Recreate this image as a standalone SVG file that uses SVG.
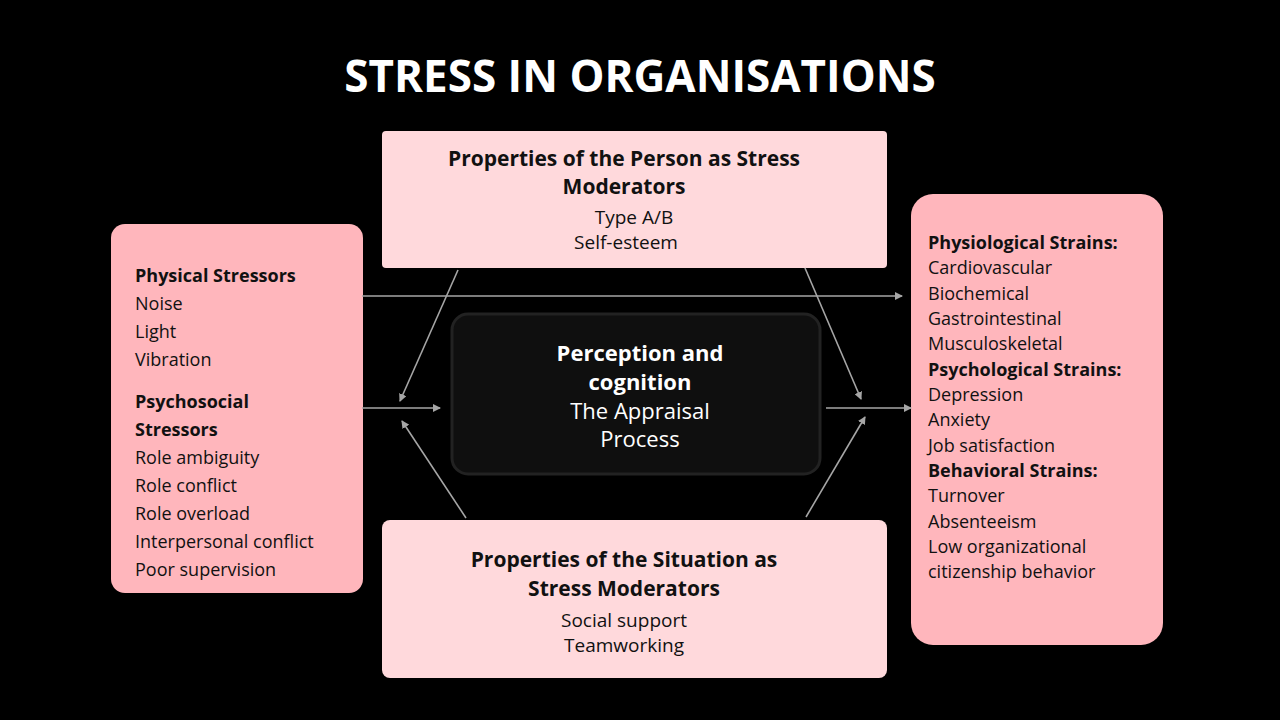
<svg xmlns="http://www.w3.org/2000/svg" width="1280" height="720" viewBox="0 0 1280 720">
<style>
text{font-family:"Open Sans","DejaVu Sans",sans-serif;}
.t{fill:#fff;font-weight:700;font-size:44px;}
.b{font-weight:700;fill:#111;}
.r{fill:#111;}
.c{fill:#ffd9dc;}
.s{fill:#ffb6bc;}
.a{stroke:#a6a6a6;stroke-width:1.6;fill:none;marker-end:url(#ah);}
</style>
<defs><marker id="ah" markerWidth="8" markerHeight="8" refX="7" refY="4" orient="auto" markerUnits="userSpaceOnUse"><path d="M0,0 L8,4 L0,8 z" fill="#a6a6a6"/></marker></defs>
<rect width="1280" height="720" fill="#000"/>
<text class="t" x="640" y="92" text-anchor="middle">STRESS IN ORGANISATIONS</text>
<g id="person">
<rect class="c" x="382" y="131" width="505" height="137" rx="4"/>
<text x="624" y="166" text-anchor="middle" font-size="21" class="b">Properties of the Person as Stress</text>
<text x="624" y="194" text-anchor="middle" font-size="21" class="b">Moderators</text>
<text x="634" y="224" text-anchor="middle" font-size="19" class="r">Type A/B</text>
<text x="626" y="249" text-anchor="middle" font-size="19" class="r">Self-esteem</text>
</g>
<g id="situation">
<rect class="c" x="382" y="520" width="505" height="158" rx="8"/>
<text x="624" y="567" text-anchor="middle" font-size="21" class="b">Properties of the Situation as</text>
<text x="624" y="596" text-anchor="middle" font-size="21" class="b">Stress Moderators</text>
<text x="624" y="627" text-anchor="middle" font-size="19" class="r">Social support</text>
<text x="624" y="652" text-anchor="middle" font-size="19" class="r">Teamworking</text>
</g>
<g id="stressors" font-size="18">
<rect class="s" x="111" y="224" width="252" height="369" rx="14"/>
<text x="135" y="282" class="b">Physical Stressors</text>
<text x="135" y="310" class="r">Noise</text>
<text x="135" y="338" class="r">Light</text>
<text x="135" y="366" class="r">Vibration</text>
<text x="135" y="408" class="b">Psychosocial</text>
<text x="135" y="436" class="b">Stressors</text>
<text x="135" y="464" class="r">Role ambiguity</text>
<text x="135" y="492" class="r">Role conflict</text>
<text x="135" y="520" class="r">Role overload</text>
<text x="135" y="548" class="r">Interpersonal conflict</text>
<text x="135" y="576" class="r">Poor supervision</text>
</g>
<g id="strains" font-size="18">
<rect class="s" x="911" y="194" width="252" height="451" rx="22"/>
<text x="928" y="249" class="b">Physiological Strains:</text>
<text x="928" y="274" class="r">Cardiovascular</text>
<text x="928" y="300" class="r">Biochemical</text>
<text x="928" y="325" class="r">Gastrointestinal</text>
<text x="928" y="350" class="r">Musculoskeletal</text>
<text x="928" y="376" class="b">Psychological Strains:</text>
<text x="928" y="401" class="r">Depression</text>
<text x="928" y="426" class="r">Anxiety</text>
<text x="928" y="452" class="r">Job satisfaction</text>
<text x="928" y="477" class="b">Behavioral Strains:</text>
<text x="928" y="502" class="r">Turnover</text>
<text x="928" y="528" class="r">Absenteeism</text>
<text x="928" y="553" class="r">Low organizational</text>
<text x="928" y="578" class="r">citizenship behavior</text>
</g>
<g id="perception">
<rect x="452" y="314" width="368" height="160" rx="16" fill="#0f0f0f" stroke="#222" stroke-width="3"/>
<text x="640" y="361" text-anchor="middle" font-size="22" font-weight="700" fill="#fff">Perception and</text>
<text x="640" y="390" text-anchor="middle" font-size="22" font-weight="700" fill="#fff">cognition</text>
<text x="640" y="419" text-anchor="middle" font-size="22" fill="#fff">The Appraisal</text>
<text x="640" y="447" text-anchor="middle" font-size="22" fill="#fff">Process</text>
</g>
<g id="connectors">
<line class="a" x1="362" y1="296" x2="902" y2="296"/>
<line class="a" x1="362" y1="408" x2="440" y2="408"/>
<line class="a" x1="826" y1="408" x2="911" y2="408"/>
<line class="a" x1="458" y1="270" x2="400" y2="401"/>
<line class="a" x1="466" y1="518" x2="402" y2="421"/>
<line class="a" x1="805" y1="268" x2="861" y2="399"/>
<line class="a" x1="806" y1="517" x2="865" y2="417"/>
</g>
</svg>
